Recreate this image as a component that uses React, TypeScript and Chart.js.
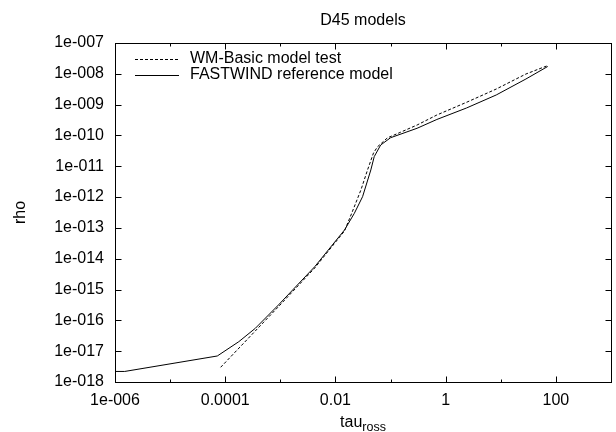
import React, { useEffect, useRef } from 'react';
import { Chart, registerables } from 'chart.js';

Chart.register(...registerables);

const chartTitle = 'D45 models';
const xTitleMain = 'tau';
const xTitleSub = 'ross';
const yTitle = 'rho';
const seriesLabels = ['WM-Basic model test', 'FASTWIND reference model'];

// WM-Basic model test (dashed)
const wmTau = [8.26e-5, 9.25e-4, 4.21e-3, 0.01459, 0.01972, 0.02897, 0.0382, 0.049, 0.0578, 0.0875, 0.1517, 0.303, 0.692, 2.39, 8.28, 28.6, 71.1];
const wmRho = [3.0e-18, 2.78e-16, 5.01e-15, 7.94e-14, 2.98e-13, 1.70e-12, 7.59e-12, 2.69e-11, 4.27e-11, 8.32e-11, 1.27e-10, 2.18e-10, 4.61e-10, 1.19e-9, 3.21e-9, 9.86e-9, 1.85e-8];

// FASTWIND reference model (solid)
const fwTau = [1e-6, 1.5e-6, 7.18e-5, 1.76e-4, 3.52e-4, 9.25e-4, 4.21e-3, 0.01459, 0.02203, 0.03105, 0.04385, 0.0505, 0.0662, 0.1002, 0.303, 0.692, 2.39, 8.28, 28.6, 71.1];
const fwRho = [2.2e-18, 2.2e-18, 6.98e-18, 2.03e-17, 5.53e-17, 3.16e-16, 5.52e-15, 8.55e-14, 2.98e-13, 1.03e-12, 7.57e-12, 2.05e-11, 4.90e-11, 8.45e-11, 1.71e-10, 3.30e-10, 7.78e-10, 2.06e-9, 6.79e-9, 1.73e-8];

const xTickValues = [1e-6, 1e-5, 1e-4, 1e-3, 1e-2, 1e-1, 1, 10, 100, 1000];
const xTickLabels = ['1e-006', '', '0.0001', '', '0.01', '', '1', '', '100', ''];
const yTickValues = [1e-18, 1e-17, 1e-16, 1e-15, 1e-14, 1e-13, 1e-12, 1e-11, 1e-10, 1e-9, 1e-8, 1e-7];
const yTickLabels = ['1e-018', '1e-017', '1e-016', '1e-015', '1e-014', '1e-013', '1e-012', '1e-011', '1e-010', '1e-009', '1e-008', '1e-007'];

const FONT = '"Liberation Sans", Arial, Helvetica, sans-serif';
const INK = '#000';

const framePlugin = {
  id: 'gnuFrame',
  afterDraw(chart: any) {
    const { ctx, chartArea: a, scales } = chart;
    const xs = scales.x;
    const ys = scales.y;
    ctx.save();
    ctx.strokeStyle = INK;
    ctx.lineWidth = 1;
    ctx.setLineDash([]);
    const L = Math.round(a.left) + 0.5;
    const R = Math.round(a.right) + 0.5;
    const T = Math.round(a.top) + 0.5;
    const B = Math.round(a.bottom) + 0.5;
    ctx.strokeRect(L, T, R - L, B - T);
    ctx.beginPath();
    xTickValues.forEach((v, i) => {
      const px = Math.round(xs.getPixelForValue(v)) + 0.5;
      const len = xTickLabels[i] ? 6 : 3;
      ctx.moveTo(px, B);
      ctx.lineTo(px, B - len);
      ctx.moveTo(px, T);
      ctx.lineTo(px, T + len);
    });
    yTickValues.forEach((v) => {
      const py = Math.round(ys.getPixelForValue(v)) + 0.5;
      ctx.moveTo(L, py);
      ctx.lineTo(L + 6, py);
      ctx.moveTo(R, py);
      ctx.lineTo(R - 6, py);
    });
    ctx.stroke();

    ctx.fillStyle = INK;
    const cx = (a.left + a.right) / 2;
    // title
    ctx.font = `16px ${FONT}`;
    ctx.textAlign = 'center';
    ctx.textBaseline = 'alphabetic';
    ctx.fillText(chartTitle, cx, 25);

    // x title with subscript
    ctx.font = `16px ${FONT}`;
    const wMain = ctx.measureText(xTitleMain).width;
    ctx.font = `12.5px ${FONT}`;
    const wSub = ctx.measureText(xTitleSub).width;
    const startX = cx - (wMain + wSub) / 2;
    ctx.textAlign = 'left';
    ctx.font = `16px ${FONT}`;
    ctx.fillText(xTitleMain, startX, 426.5);
    ctx.font = `12.5px ${FONT}`;
    ctx.fillText(xTitleSub, startX + wMain, 431);

    // y title rotated
    ctx.save();
    ctx.translate(25, (a.top + a.bottom) / 2);
    ctx.rotate(-Math.PI / 2);
    ctx.font = `16px ${FONT}`;
    ctx.textAlign = 'center';
    ctx.textBaseline = 'alphabetic';
    ctx.fillText(yTitle, 0, 0);
    ctx.restore();

    // legend
    const rowY = [58.5, 74.5];
    chart.data.datasets.forEach((ds: any, i: number) => {
      const y = Math.round(rowY[i]) + 0.5;
      ctx.beginPath();
      ctx.strokeStyle = ds.borderColor;
      ctx.lineWidth = ds.borderWidth;
      ctx.setLineDash(ds.borderDash || []);
      ctx.moveTo(135, y);
      ctx.lineTo(179, y);
      ctx.stroke();
      ctx.setLineDash([]);
      ctx.font = `16px ${FONT}`;
      ctx.textAlign = 'left';
      ctx.textBaseline = 'middle';
      ctx.fillStyle = INK;
      ctx.fillText(ds.label, 190, rowY[i] + 0.5);
    });
    ctx.restore();
  },
};

export default function App() {
  const ref = useRef<HTMLCanvasElement | null>(null);
  useEffect(() => {
    if (!ref.current) return;
    const chart = new Chart(ref.current, {
      type: 'line',
      data: {
        datasets: [
          {
            label: seriesLabels[0],
            data: wmTau.map((t, i) => ({ x: t, y: wmRho[i] })),
            borderColor: '#000',
            borderWidth: 1,
            borderDash: [3, 2],
            pointRadius: 0,
            tension: 0,
            fill: false,
          },
          {
            label: seriesLabels[1],
            data: fwTau.map((t, i) => ({ x: t, y: fwRho[i] })),
            borderColor: '#000',
            borderWidth: 1,
            pointRadius: 0,
            tension: 0,
            fill: false,
          },
        ],
      },
      options: {
        responsive: false,
        animation: false,
        layout: { padding: { top: 43, right: 4, bottom: 0, left: 0 } },
        plugins: { legend: { display: false }, tooltip: { enabled: false }, title: { display: false } },
        scales: {
          x: {
            type: 'logarithmic',
            min: 1e-6,
            max: 1e3,
            grid: { display: false, drawTicks: false },
            border: { display: false },
            afterBuildTicks: (s: any) => {
              s.ticks = xTickValues.map((v) => ({ value: v }));
            },
            afterFit: (s: any) => {
              s.height = 50;
            },
            ticks: {
              autoSkip: false,
              maxRotation: 0,
              minRotation: 0,
              padding: 9,
              color: INK,
              font: { family: FONT, size: 16 },
              callback: (_v: any, i: number) => xTickLabels[i],
            },
          },
          y: {
            type: 'logarithmic',
            min: 1e-18,
            max: 1e-7,
            grid: { display: false, drawTicks: false },
            border: { display: false },
            afterBuildTicks: (s: any) => {
              s.ticks = yTickValues.map((v) => ({ value: v }));
            },
            afterFit: (s: any) => {
              s.width = 115;
            },
            ticks: {
              autoSkip: false,
              padding: 11,
              color: INK,
              font: { family: FONT, size: 16 },
              callback: (_v: any, i: number) => yTickLabels[i],
            },
          },
        },
      },
      plugins: [framePlugin],
    });
    return () => chart.destroy();
  }, []);
  return (
    <div style={{ position: 'fixed', left: 0, top: 0, width: 616, height: 432, overflow: 'hidden', background: '#fff' }}>
      <canvas ref={ref} width={620} height={432} style={{ display: 'block' }} />
    </div>
  );
}
